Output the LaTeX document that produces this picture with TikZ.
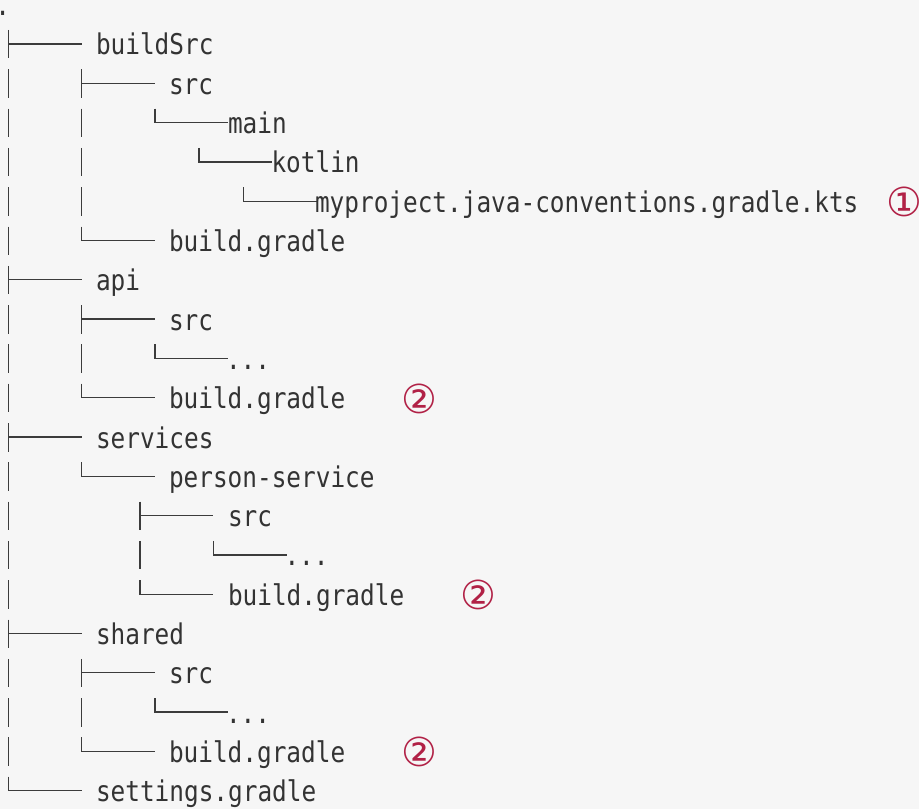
\documentclass[tikz,border=0pt]{standalone}
\usepackage{fontspec}
\newfontfamily\treefont[FakeStretch=0.855]{DejaVu Sans Mono}
\newfontfamily\conumfont{DejaVu Sans}
\definecolor{bgcol}{HTML}{F6F6F6}
\definecolor{txtcol}{HTML}{333333}
\definecolor{linecol}{HTML}{3C3C3C}
\definecolor{conumcol}{HTML}{B12146}
\tikzset{
  entry/.style={anchor=base west, inner sep=0pt, outer sep=0pt, text=txtcol,
    font=\treefont\fontsize{21.4}{25}\selectfont},
  conum/.style={anchor=center, inner sep=0pt, outer sep=0pt, text=conumcol,
    font=\conumfont\fontsize{30}{32}\selectfont},
  treeline/.style={draw=linecol, line width=0.95pt, line cap=butt},
}
% row baseline
\newcommand{\rowb}[1]{\fpeval{15.7+39.3*#1}}
% vertical bar of a row: x, row
\newcommand{\tvbar}[2]{\draw[treeline] (#1,\rowb{#2}-25) -- (#1,\rowb{#2}+3.5);}
% tee: x, row, x end
\newcommand{\ttee}[3]{\draw[treeline] (#1,\rowb{#2}-25) -- (#1,\rowb{#2}+3.5);
  \draw[treeline] (#1,\rowb{#2}-11) -- (#3,\rowb{#2}-11);}
% corner: x, row, x end
\newcommand{\tcorner}[3]{\draw[treeline] (#1,\rowb{#2}-25) -- (#1,\rowb{#2}-11) -- (#3,\rowb{#2}-11);}
\begin{document}
\begin{tikzpicture}[x=0.75pt,y=-0.75pt]
\fill[bgcol] (0,0) rectangle (919,809);
\useasboundingbox (0,0) rectangle (919,809);
% columns
\def\cA{8.3}
\def\cB{81.7}
\def\cC{155}
\def\cD{199}
\def\cE{243.3}
\def\cP{140}
\def\cQ{213.3}
% row 0
\node[entry] (root) at (-4.6,\rowb{0}) {.};
% row 1
\ttee{\cA}{1}{\cB}
\node[entry] (buildsrc) at (96,\rowb{1}) {buildSrc};
% row 2
\tvbar{\cA}{2} \ttee{\cB}{2}{\cC}
\node[entry] (bsrc) at (169,\rowb{2}) {src};
% row 3
\tvbar{\cA}{3} \tvbar{\cB}{3} \tcorner{\cC}{3}{228.3}
\node[entry] (bmain) at (228,\rowb{3}) {main};
% row 4
\tvbar{\cA}{4} \tvbar{\cB}{4} \tcorner{\cD}{4}{271.7}
\node[entry] (bkotlin) at (271.5,\rowb{4}) {kotlin};
% row 5
\tvbar{\cA}{5} \tvbar{\cB}{5} \tcorner{\cE}{5}{316.7}
\node[entry] (conv) at (315,\rowb{5}) {myproject.java-conventions.gradle.kts};
\node[conum] (c1) at (904,\rowb{5}-10.5) {①};
% row 6
\tvbar{\cA}{6} \tcorner{\cB}{6}{\cC}
\node[entry] (bbuild) at (169,\rowb{6}) {build.gradle};
% row 7
\ttee{\cA}{7}{\cB}
\node[entry] (api) at (96,\rowb{7}) {api};
% row 8
\tvbar{\cA}{8} \ttee{\cB}{8}{\cC}
\node[entry] (asrc) at (169,\rowb{8}) {src};
% row 9
\tvbar{\cA}{9} \tvbar{\cB}{9} \tcorner{\cC}{9}{228.3}
\node[entry] (adots) at (226,\rowb{9}) {...};
% row 10
\tvbar{\cA}{10} \tcorner{\cB}{10}{\cC}
\node[entry] (abuild) at (169,\rowb{10}) {build.gradle};
\node[conum] (c2a) at (419,\rowb{10}-10) {②};
% row 11
\ttee{\cA}{11}{\cB}
\node[entry] (services) at (96,\rowb{11}) {services};
% row 12
\tvbar{\cA}{12} \tcorner{\cB}{12}{\cC}
\node[entry] (person) at (169,\rowb{12}) {person-service};
% row 13
\tvbar{\cA}{13} \ttee{\cP}{13}{\cQ}
\node[entry] (psrc) at (228,\rowb{13}) {src};
% row 14
\tvbar{\cA}{14} \tvbar{\cP}{14} \tcorner{\cQ}{14}{286.7}
\node[entry] (pdots) at (284.5,\rowb{14}) {...};
% row 15
\tvbar{\cA}{15} \tcorner{\cP}{15}{\cQ}
\node[entry] (pbuild) at (228,\rowb{15}) {build.gradle};
\node[conum] (c2b) at (478,\rowb{15}-10) {②};
% row 16
\ttee{\cA}{16}{\cB}
\node[entry] (shared) at (96,\rowb{16}) {shared};
% row 17
\tvbar{\cA}{17} \ttee{\cB}{17}{\cC}
\node[entry] (ssrc) at (169,\rowb{17}) {src};
% row 18
\tvbar{\cA}{18} \tvbar{\cB}{18} \tcorner{\cC}{18}{228.3}
\node[entry] (sdots) at (226,\rowb{18}) {...};
% row 19
\tvbar{\cA}{19} \tcorner{\cB}{19}{\cC}
\node[entry] (sbuild) at (169,\rowb{19}) {build.gradle};
\node[conum] (c2c) at (419,\rowb{19}-10) {②};
% row 20
\tcorner{\cA}{20}{\cB}
\node[entry] (settings) at (96,\rowb{20}) {settings.gradle};
\end{tikzpicture}
\end{document}
